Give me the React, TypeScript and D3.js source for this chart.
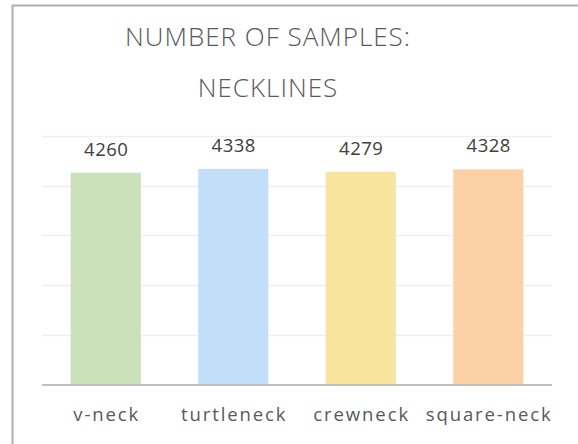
import { useEffect, useRef } from 'react';
import * as d3 from 'd3';

const categories = ['v-neck', 'turtleneck', 'crewneck', 'square-neck'];
const samples = [4260, 4338, 4279, 4328];
const barColors = ['#C9E0B9', '#C2DEF9', '#F9E49D', '#FDD1A6'];
const gridTicks = [0, 1000, 2000, 3000, 4000, 5000];
const titleLines = ['NUMBER OF SAMPLES:', 'NECKLINES'];

export default function App() {
  const ref = useRef<SVGSVGElement>(null);

  useEffect(() => {
    if (!ref.current) return;
    const svg = d3.select(ref.current);
    svg.selectAll('*').remove();

    const width = 578;
    const height = 444;
    const plot = { left: 42, right: 552, top: 136, bottom: 384.5 };

    svg.append('rect').attr('width', width).attr('height', height).attr('fill', '#fff');

    // chart frame (only top and left edges visible)
    svg.append('path')
      .attr('d', `M12.5,${height} V5.5 H${width}`)
      .attr('fill', 'none')
      .attr('stroke', '#B3AEB0')
      .attr('stroke-width', 2);

    const x = d3.scaleBand<string>()
      .domain(categories)
      .range([plot.left, plot.right])
      .paddingInner(0.45)
      .paddingOuter(0.225);

    const y = d3.scaleLinear()
      .domain([0, 5000])
      .range([plot.bottom, plot.top]);

    // title
    svg.append('g')
      .selectAll('text')
      .data(titleLines)
      .enter()
      .append('text')
      .attr('x', 268)
      .attr('y', (d, i) => 46 + i * 51)
      .attr('text-anchor', 'middle')
      .attr('font-family', '"Open Sans", sans-serif')
      .attr('font-weight', 300)
      .attr('font-size', 26)
      .attr('letter-spacing', 1)
      .attr('fill', '#595959')
      .text(d => d);

    // grid lines
    svg.append('g')
      .selectAll('line')
      .data(gridTicks.slice(1))
      .enter()
      .append('line')
      .attr('x1', plot.left)
      .attr('x2', plot.right)
      .attr('y1', d => Math.round(y(d)) + 0.5)
      .attr('y2', d => Math.round(y(d)) + 0.5)
      .attr('stroke', '#EFEFEF')
      .attr('stroke-width', 1.5);

    // bars
    svg.append('g')
      .selectAll('rect')
      .data(samples)
      .enter()
      .append('rect')
      .attr('x', (d, i) => x(categories[i])!)
      .attr('y', d => y(d))
      .attr('width', x.bandwidth())
      .attr('height', d => y(0) - y(d))
      .attr('fill', (d, i) => barColors[i]);

    // axis line
    svg.append('line')
      .attr('x1', plot.left)
      .attr('x2', plot.right)
      .attr('y1', y(0) + 0.5)
      .attr('y2', y(0) + 0.5)
      .attr('stroke', '#BFBFBF')
      .attr('stroke-width', 2);

    // value labels
    svg.append('g')
      .selectAll('text')
      .data(samples)
      .enter()
      .append('text')
      .attr('x', (d, i) => x(categories[i])! + x.bandwidth() / 2 + 0.5)
      .attr('y', d => y(d) - 17)
      .attr('text-anchor', 'middle')
      .attr('font-family', '"Open Sans", sans-serif')
      .attr('font-size', 18.5)
      .attr('letter-spacing', 0.5)
      .attr('fill', '#404040')
      .text(d => d);

    // category labels
    const ls = 1.9;
    svg.append('g')
      .selectAll('text')
      .data(categories)
      .enter()
      .append('text')
      .attr('x', d => x(d)! + x.bandwidth() / 2 + ls / 2)
      .attr('y', 421)
      .attr('text-anchor', 'middle')
      .attr('font-family', '"Open Sans", sans-serif')
      .attr('font-size', 18.5)
      .attr('letter-spacing', ls)
      .attr('fill', '#595959')
      .text(d => d);
  }, []);

  return (
    <svg
      ref={ref}
      width={578}
      height={444}
      style={{ position: 'absolute', left: 0, top: 0, display: 'block' }}
    />
  );
}
